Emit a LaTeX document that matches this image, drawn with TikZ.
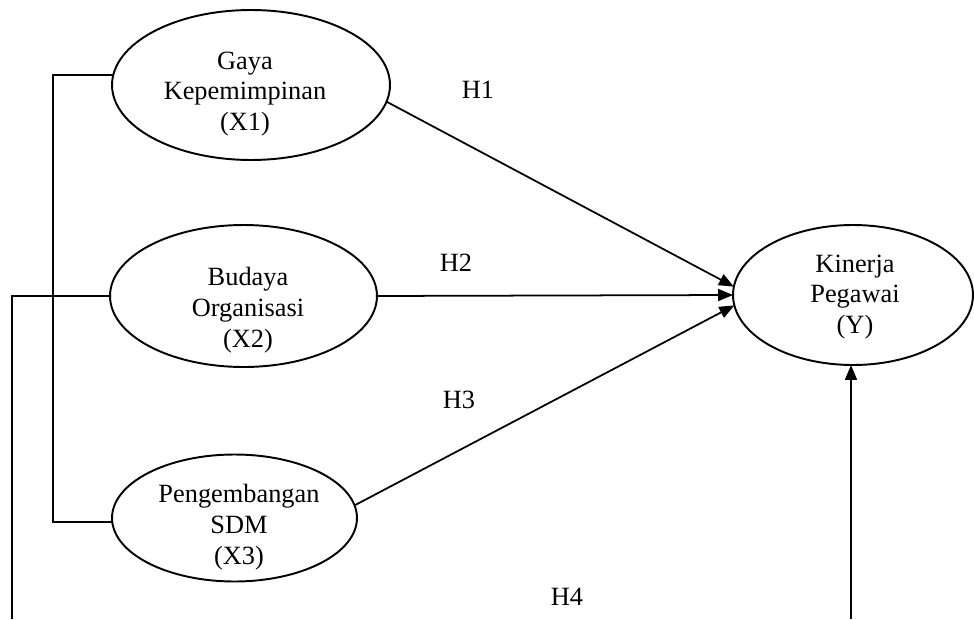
\documentclass[tikz,border=0pt]{standalone}
\usepackage{fontspec}
\setmainfont{Liberation Serif}
\usetikzlibrary{shapes.geometric,arrows.meta}

\begin{document}
\begin{tikzpicture}[x=0.02cm,y=-0.02cm,
  latent/.style={draw,ellipse,line width=1.1pt,inner sep=0pt,outer sep=0pt},
  vlabel/.style={align=center,font=\fontsize{15}{17.6}\selectfont,inner sep=0pt},
  hlabel/.style={font=\fontsize{15}{18}\selectfont,inner sep=0pt},
  hpath/.style={line width=1pt,-{Triangle[length=0.3cm,width=0.24cm]}},
  link/.style={line width=1pt}]
%
\useasboundingbox (0,0) rectangle (974,619);
%
% variables
\node[latent,minimum width=5.56cm,minimum height=3.0cm] (x1) at (251,85) {};
\node[latent,minimum width=5.34cm,minimum height=2.84cm] (x2) at (243.5,296) {};
\node[latent,minimum width=4.9cm,minimum height=2.54cm] (x3) at (234.5,518) {};
\node[latent,minimum width=4.8cm,minimum height=2.8cm] (y) at (853,295) {};
%
\node[vlabel] (x1t) at (245,94) {Gaya\\Kepemimpinan\\(X1)};
\node[vlabel] (x2t) at (248,310) {Budaya\\Organisasi\\(X2)};
\node[vlabel] (x3t) at (239,527) {Pengembangan\\SDM\\(X3)};
\node[vlabel] (yt) at (855,297) {Kinerja\\Pegawai\\(Y)};
%
% hypotheses
\draw[hpath] (x1.-7) -- (y.176);
\draw[hpath] (x2.east) -- (y.west);
\draw[hpath] (x3.6) -- (y.185);
%
\node[hlabel] (h1) at (478,90) {H1};
\node[hlabel] (h2) at (456,263) {H2};
\node[hlabel] (h3) at (459,400) {H3};
\node[hlabel] (h4) at (567,597) {H4};
%
% brackets
\coordinate (bk) at (53,0);
\draw[link] (x1.176) -- (x1.176 -| bk) |- (x3.182);
\coordinate (fb) at (12,619);
\draw[link] (x2.west) -| (fb);
\coordinate (yb) at (851,619);
\draw[hpath] (yb) -- (yb |- y.south);
%
\end{tikzpicture}
\end{document}
